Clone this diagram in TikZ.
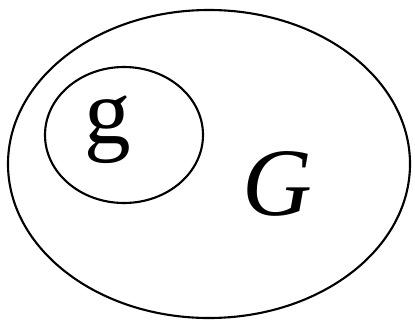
\documentclass[tikz,border=0pt]{standalone}
\usepackage{fontspec}
\setmainfont{Liberation Serif}
\usetikzlibrary{shapes.geometric}

\begin{document}
\begin{tikzpicture}[
    x=0.02cm, y=-0.02cm,
    set/.style={ellipse, draw, line width=1.2pt, inner sep=0pt},
    letter/.style={inner sep=0pt, font=\fontsize{55}{60}\selectfont}
]
\useasboundingbox (0,0) rectangle (415,321);
\node[set, minimum width=402*0.02cm, minimum height=308*0.02cm] (bigset) at (209,164) {};
\node[set, minimum width=158*0.02cm, minimum height=136*0.02cm] (subset) at (124,135) {};
\node[letter, font=\fontsize{53}{58}\selectfont] (small) at (108,130) {g};
\node[letter] (big) at (277,184) {\itshape G};
\end{tikzpicture}
\end{document}
